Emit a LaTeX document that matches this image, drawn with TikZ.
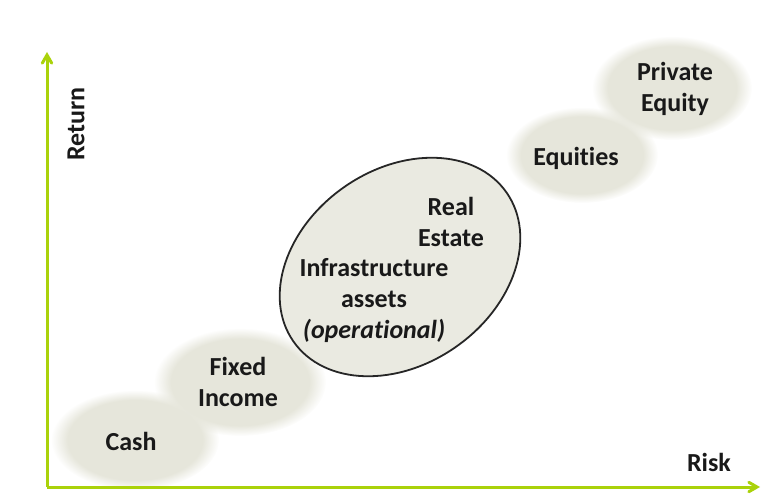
\documentclass[tikz,border=0pt]{standalone}
\usepackage{fontspec}
\setmainfont[RawFeature={-liga;-calt;-dlig}]{Carlito}
\usetikzlibrary{shapes}
\usetikzlibrary{arrows}
\usetikzlibrary{fadings}
\definecolor{axisgreen}{RGB}{170,210,10}
\definecolor{blobgray}{RGB}{230,230,219}
\definecolor{ovalgray}{RGB}{234,234,225}
\tikzset{
	asset/.style = {align=center, inner sep=0pt, text centered, text=black!90,
		font=\bfseries\fontsize{26}{31}\selectfont},% classe d'actifs
	blob/.style = {fill=blobgray, path fading=circle with fuzzy edge 20 percent},% nuage flou
	oval/.style = {ellipse, draw=black!85, fill=ovalgray, line width=1.8pt,
		minimum width=260pt, minimum height=195pt, rotate=35},% zone entouree
	axis/.style = {->, >=angle 60, axisgreen, line width=3pt}% axe
}

\begin{document}
\begin{tikzpicture}[x=1pt,y=-1pt]
	\useasboundingbox (0,0) rectangle (782,495);
	\fill [blob] (135,440) ellipse (84 and 50);
	\fill [blob] (240,382) ellipse (86 and 54);
	\fill [blob] (582,155) ellipse (76 and 48);
	\fill [blob] (672,88) ellipse (80 and 52);
	\node [oval] (zone) at (400,267) {};
	\node [asset] (cash) at (131,441) {Cash};
	\node [asset] (fixed) at (238,382) {Fixed\\Income};
	\node [asset] (real) at (451,222) {Real\\Estate};
	\node [asset] (infra) at (374,301) {Infrastructure\\assets\\\textit{(operational)}};
	\node [asset] (equities) at (576,158) {Equities};
	\node [asset] (private) at (675,89) {Private\\Equity};
	\coordinate (origin) at (47,487);
	\coordinate (ytop) at (47,52);
	\coordinate (xend) at (760,487);
	\draw [axis] (origin) -- (ytop);
	\draw [axis] (origin) -- (xend);
	\node [asset, rotate=90] (return) at (76,124) {Return};
	\node [asset] (risk) at (709,462) {Risk};
\end{tikzpicture}
\end{document}
